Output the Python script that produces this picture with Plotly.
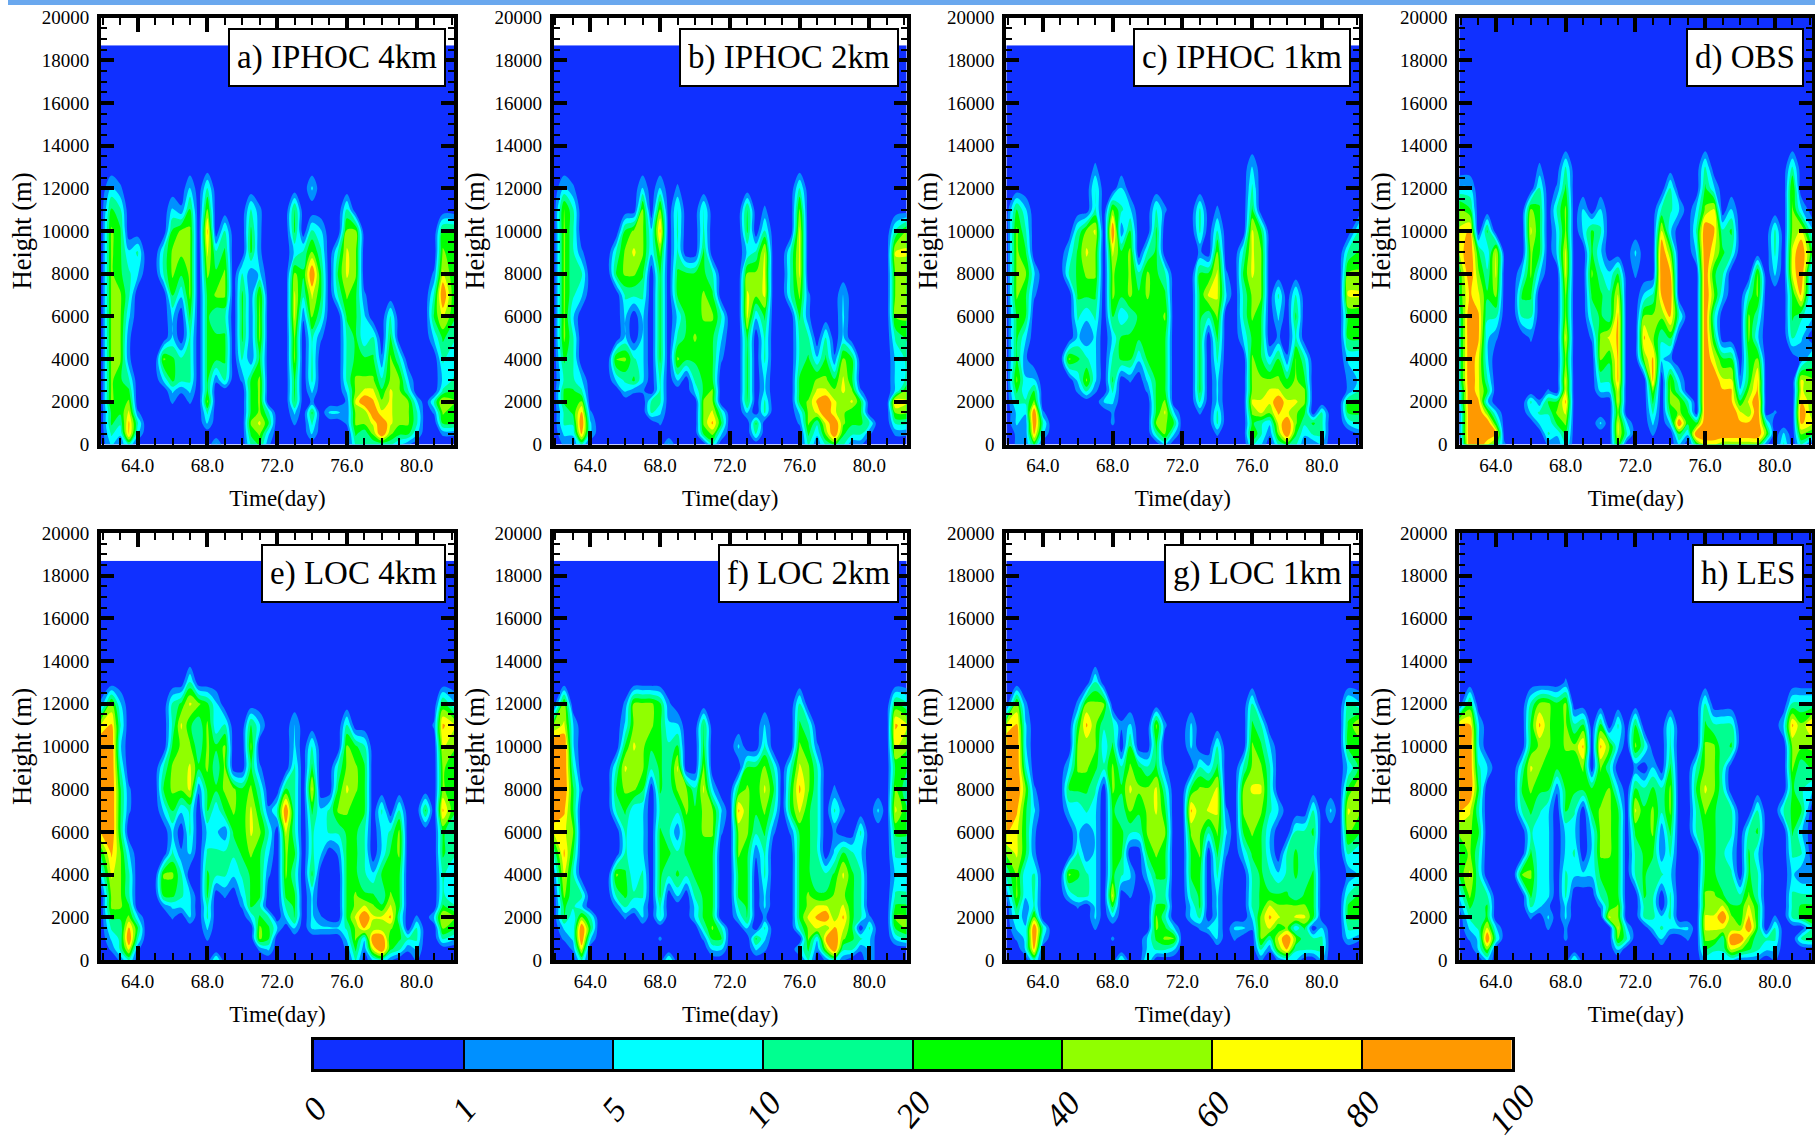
import plotly.graph_objects as go

W, H = 1815, 1137

# Cloud-fraction band: 0 = below 1 %, 1..8 = rising colour bands.
# Columns: day 62.0 to 82.0 every half day, in blocks of five. Rows: top to bottom, HEIGHTS_DOWN.
HEIGHTS_DOWN = [13000, 12000, 11000, 10000, 9000, 8000, 7000, 6000, 5000, 4000, 3000,
                2500, 2000, 1500, 1000, 500, 0]
TIME = [61.9] + [62 + 0.5 * i for i in range(1, 40)] + [82.14]
LEVEL_LABELS = ["0", "1", "5", "10", "20", "40", "60", "80", "100"]
BAND_COLORS = ["#1030FF", "#0090FF", "#00FFFF", "#00FF90", "#00FF00", "#90FF00", "#FFFF00", "#FF9900"]
TITLES = ["a) IPHOC 4km", "b) IPHOC 2km", "c) IPHOC 1km", "d) OBS",
          "e) LOC 4km", "f) LOC 2km", "g) LOC 1km", "h) LES"]
TOPS = [18700, 18700, 18700, 20000, 18700, 18700, 18700, 20000]

IPHOC_4KM = [
    "00000 00000 00000 00000 00000 00000 00000 00000 0",
    "02100 00000 20300 00000 00002 00000 00000 00000 0",
    "04300 00021 40500 00310 00400 00030 00000 00000 0",
    "05400 00045 50703 00410 00403 20055 00000 00004 4",
    "05423 00355 50634 00410 00235 30365 00000 00005 4",
    "05432 00354 50545 03120 00548 40465 00000 00016 4",
    "05530 00042 50455 04150 00636 40354 10000 00038 4",
    "05520 00020 40433 04150 00615 30044 20030 00046 4",
    "05510 00020 30444 04150 00503 10034 23040 00024 3",
    "05510 00543 30444 03140 00503 00034 44153 00003 2",
    "05430 00243 30413 01450 00403 00035 55355 20002 3",
    "05440 00021 20400 00450 00402 00025 66465 30003 4",
    "05450 00010 10500 00450 00401 00016 87565 52036 5",
    "04461 00000 00300 00453 00204 02215 58665 53015 4",
    "04373 00000 00200 00564 00103 00015 56865 53004 4",
    "03272 00000 00000 00452 00002 00004 35854 42001 1",
    "02130 00000 00020 00341 00000 00003 33332 10000 0",
]
IPHOC_2KM = [
    "00000 00000 00000 00000 00000 00000 00000 00000 0",
    "02100 00000 20201 00000 00000 00030 00000 00000 0",
    "05300 00000 50503 00300 00401 00050 00000 00000 0",
    "05300 00045 52703 00300 00403 00060 00000 00003 5",
    "05310 00356 52503 00400 00236 00360 00000 00006 6",
    "05330 00455 40404 44430 00556 00360 00000 00005 5",
    "05320 00033 30404 44540 00656 00351 00020 00005 5",
    "05200 00020 20402 44553 00624 00041 00020 00005 5",
    "05300 00020 20403 45442 00403 00033 03020 00003 4",
    "04300 00553 20405 44441 00403 00034 24154 00002 3",
    "03320 00234 20302 03440 00402 00044 55464 00002 3",
    "04430 00021 10300 02450 00402 00044 66565 10002 5",
    "04450 00000 03300 00550 00403 00045 78656 40007 6",
    "03471 00000 03200 00563 00203 00025 68654 40005 5",
    "03382 00000 00100 00574 00040 00015 36854 43003 3",
    "02272 00000 00000 00452 00030 00004 25843 31001 1",
    "01130 00000 00020 00030 00000 00003 13431 10000 0",
]
IPHOC_1KM = [
    "00000 00000 10000 00000 00000 00020 00000 00000 0",
    "00000 00000 30020 00000 00000 00030 00000 00000 0",
    "04200 00000 30532 00310 00301 00040 00000 00000 0",
    "05300 00035 60814 00400 00303 00064 00000 00000 3",
    "05400 00246 50645 03400 00105 00365 00000 00003 4",
    "05520 00345 50545 35430 00446 10465 00000 00005 5",
    "05410 00044 40545 45440 00466 20355 03030 00006 6",
    "04400 00032 30423 44450 00435 00354 02040 00004 4",
    "04200 00021 20244 44440 00404 00244 01030 00004 4",
    "04100 00543 20344 24440 00403 00054 24153 00002 2",
    "05220 00025 20401 02440 00402 00055 55454 00001 2",
    "04240 00013 10300 01440 00402 00055 66555 00001 3",
    "03350 00000 02200 00450 00302 00066 68665 00004 4",
    "02281 00000 00100 00462 00103 00056 57654 03004 4",
    "02183 00000 00100 00554 00003 00043 26853 43002 3",
    "01172 00000 00000 00352 00001 00053 15842 33000 1",
    "01140 00000 00000 00020 00000 00032 03431 12000 0",
]
OBS = [
    "00000 00001 00300 00000 00000 00030 00000 00030 0",
    "22000 00003 01400 00000 00003 00042 00000 00050 0",
    "54000 00054 03502 02000 00033 20256 02000 00052 0",
    "67040 00064 02502 43000 00062 00387 34000 03056 2",
    "68426 00054 02600 42000 20085 00286 43000 03068 4",
    "48536 00252 00600 53240 10087 00084 30005 02068 1",
    "47645 00440 00500 44360 02378 00085 20035 00047 1",
    "38733 00330 00500 34370 05557 30083 00053 00043 2",
    "38721 00010 00600 15670 07534 00084 00052 00032 0",
    "38620 00000 00500 05470 05721 00086 44045 00001 3",
    "38630 00000 00600 03370 00705 20088 66147 00006 5",
    "28640 00000 10600 02260 00505 30088 77257 00006 5",
    "28720 00031 44700 00060 00405 53088 87468 00007 5",
    "18852 00023 35600 00050 00304 54088 88658 01008 5",
    "18884 00002 24500 02062 00202 84488 88778 30007 6",
    "18887 00000 32400 00063 00100 42888 88888 50205 4",
    "08864 10000 11300 00050 00000 20466 55555 10303 0",
]
LOC_4KM = [
    "00000 00000 30000 00000 00000 00000 00000 00000 0",
    "15200 00034 65420 00000 00000 00000 00000 00004 2",
    "67300 00036 43523 00420 00200 00030 00000 00017 6",
    "88200 00045 53545 00500 00203 00054 30000 00006 5",
    "88300 00355 64535 00410 00304 00355 40000 00005 4",
    "88410 00455 61445 54530 04306 00465 40000 00005 4",
    "88410 00242 30424 54641 38304 23554 40303 00407 4",
    "78400 00020 30221 44653 06303 23344 30235 00004 3",
    "47520 00031 20333 34542 05403 20144 30245 00004 3",
    "26530 00553 00433 23441 05304 00044 32444 00003 2",
    "05530 00443 20401 02440 04402 00045 44354 00003 2",
    "05540 00122 20300 01430 03402 00045 65464 00004 3",
    "04452 00010 20300 00243 02402 10046 86673 01026 5",
    "03374 00000 00200 00054 20202 22235 75554 03005 4",
    "02383 00000 00100 00054 00000 00025 28844 33003 2",
    "01361 00000 00000 00012 00000 00014 16843 12000 0",
    "00130 00000 00030 00000 00000 00003 02310 01000 0",
]
LOC_2KM = [
    "00000 00000 00000 00000 00000 00000 00000 00000 0",
    "05000 00015 55410 00000 00000 00030 00000 00004 3",
    "56200 00025 55422 00400 00002 00043 00000 00007 6",
    "88200 00046 54434 00400 02003 00054 10000 00006 5",
    "88300 00365 53436 00500 00445 30365 30000 00004 4",
    "88410 00455 40435 53620 04546 40475 30100 00005 3",
    "87400 00342 20333 54552 07545 30464 30310 00206 4",
    "66500 00032 20431 44551 05534 10144 30100 30004 4",
    "37400 00032 20443 44440 05413 00044 30243 20003 3",
    "16300 00542 30434 34440 04403 00044 33464 30002 2",
    "05330 00343 30402 03440 04402 00045 44554 30003 3",
    "04320 00132 20300 02440 03402 00045 66564 30004 4",
    "04253 00010 20300 02440 02401 00046 78574 31005 5",
    "02284 00000 00000 00353 00203 00035 65764 03004 5",
    "01282 00000 00100 00144 00042 00005 27854 32002 3",
    "00160 00000 00000 00022 00021 00024 15833 12000 0",
    "00030 00000 00030 00000 00000 00003 01310 02000 0",
]
LOC_1KM = [
    "00000 00000 30000 00000 00000 00000 00000 00000 0",
    "05100 00015 55000 00000 00000 00030 00000 00003 2",
    "67200 00047 53312 00510 02000 00043 00000 00004 6",
    "88200 00055 52404 00400 02003 00054 20000 00004 4",
    "88300 00255 43535 43410 00324 00355 30000 00002 4",
    "88510 00444 30546 55630 04556 00566 30000 00004 6",
    "87420 00223 20435 45640 07566 10555 32000 30206 5",
    "76410 00021 20443 35550 05535 20454 20033 40005 4",
    "56410 00031 20440 04540 04504 10244 20343 30003 2",
    "35230 00543 20432 02440 04403 00034 32343 40001 2",
    "15230 00233 20601 00330 03402 00034 44434 40003 4",
    "04130 00010 20400 00440 02402 00034 65555 40004 4",
    "03150 00000 20200 00530 02302 00025 76566 40004 4",
    "02283 00000 10000 00542 00122 02215 64524 02003 3",
    "01282 00000 00100 02455 00002 01005 36853 33002 1",
    "00270 00000 00000 02332 00000 00003 15733 33000 0",
    "00030 00000 00030 03000 00000 00001 01220 02000 0",
]
LES = [
    "00000 00000 00100 00000 00000 00000 00000 00000 0",
    "04000 00035 54500 00000 00000 00030 00000 00033 3",
    "77200 00047 54534 04030 40003 00043 33000 00275 7",
    "88200 00045 54557 07520 53003 00055 34000 00055 5",
    "88320 00365 44445 05300 10204 00355 30000 00053 4",
    "88400 00454 41444 44520 43435 00465 30000 00043 2",
    "76300 00343 20430 45540 64535 00354 33003 00344 0",
    "55400 00032 20220 25540 44514 00344 33034 00042 0",
    "45300 00042 20230 25540 34413 00044 32042 00033 0",
    "46300 00552 20322 24440 34332 00044 33043 00021 1",
    "25330 00042 20300 03440 04303 00055 43353 00033 3",
    "14340 00032 10200 01450 03303 00055 64464 00034 4",
    "03340 00010 20200 00650 03323 00066 85474 01034 5",
    "02362 00000 10100 00062 00232 22066 65584 03000 3",
    "01283 00000 00100 00053 00020 01055 38853 33003 4",
    "00250 00000 00000 00020 00000 00043 36543 22000 0",
    "00020 00000 00030 00000 00000 00022 22111 01000 0",
]
PANELS = [IPHOC_4KM, IPHOC_2KM, IPHOC_1KM, OBS, LOC_4KM, LOC_2KM, LOC_1KM, LES]

FONT = "Liberation Serif"
LEFTS = [101, 553.7, 1006.3, 1459.3]
BOTTOMS = [444.5, 960]
PW, PH = 353, 427
KEY_LEFT, KEY_RIGHT = 314, 1511.5
scale = [[i / 7, c] for i, c in enumerate(BAND_COLORS)]


def decode(rows, top):
    grid = [[int(c) for c in r.replace(" ", "")] for r in reversed(rows)]
    zeros = [0] * len(TIME)
    return grid + [zeros, zeros], list(reversed(HEIGHTS_DOWN)) + [14000, top]


fig = go.Figure()
layout = {}
annotations = []
for k, (rows, top, title) in enumerate(zip(PANELS, TOPS, TITLES)):
    n = "" if k == 0 else str(k + 1)
    left, bottom = LEFTS[k % 4], BOTTOMS[k // 4]
    z, y = decode(rows, top)
    fig.add_trace(go.Contour(
        x=TIME, y=y, z=z, xaxis="x" + n, yaxis="y" + n, autocontour=False,
        contours=dict(start=0.8, end=6.8, size=1, coloring="fill", showlines=False),
        line=dict(width=0, smoothing=1), colorscale=scale, showscale=False,
    ))
    layout["xaxis" + n] = dict(
        domain=[left / W, (left + PW) / W], anchor="y" + n, range=[61.9, 82.14],
        tick0=64, dtick=4, tickformat=".1f", ticks="inside", ticklen=14, tickwidth=4,
        tickcolor="black", showline=True, linewidth=4, linecolor="black", mirror="ticks",
        showgrid=False, zeroline=False, ticklabelstandoff=1,
        minor=dict(tick0=64, dtick=1, ticks="inside", ticklen=7, tickwidth=2, tickcolor="black", showgrid=False),
        tickfont=dict(family=FONT, size=19, color="black"),
        title=dict(text="Time(day)", font=dict(family=FONT, size=23, color="black"), standoff=16),
    )
    layout["yaxis" + n] = dict(
        domain=[1 - bottom / H, 1 - (bottom - PH) / H], anchor="x" + n, range=[0, 20000],
        tick0=0, dtick=2000, tickformat="d", ticks="inside", ticklen=13, tickwidth=4, tickcolor="black",
        showline=True, linewidth=4, linecolor="black", mirror="ticks",
        showgrid=False, zeroline=False, ticklabelstandoff=4,
        minor=dict(tick0=0, dtick=500, ticks="inside", ticklen=6, tickwidth=2, tickcolor="black", showgrid=False),
        tickfont=dict(family=FONT, size=19, color="black"),
        title=dict(text="Height (m)", font=dict(family=FONT, size=26.5, color="black"), standoff=3),
    )
    annotations.append(dict(
        text=title, xref="paper", yref="paper", x=(left + PW - 8) / W, y=1 - (bottom - PH + 10.5) / H,
        xanchor="right", yanchor="top", showarrow=False, bgcolor="white", bordercolor="black",
        borderwidth=2, borderpad=7, height=41, valign="middle",
        font=dict(family=FONT, size=33, color="black"),
    ))

# Colour key drawn as its own axes, with one cell per band between the level ticks.
fig.add_trace(go.Heatmap(
    x=[i + 0.5 for i in range(8)], y=[0], z=[list(range(8))], xaxis="x9", yaxis="y9",
    zmin=0, zmax=7, colorscale=scale, showscale=False,
))
layout["xaxis9"] = dict(
    domain=[KEY_LEFT / W, KEY_RIGHT / W], anchor="y9", range=[0, 8], tickvals=list(range(9)),
    showticklabels=False, ticks="inside", ticklen=29, tickwidth=1.5, tickcolor="black",
    showline=True, linewidth=2.5, linecolor="black", mirror=True, showgrid=False, zeroline=False,
)
layout["yaxis9"] = dict(
    domain=[1 - 1069 / H, 1 - 1040 / H], anchor="x9", range=[-0.5, 0.5], showticklabels=False,
    ticks="", showline=True, linewidth=2.5, linecolor="black", mirror=True, showgrid=False, zeroline=False,
)
for i, label in enumerate(LEVEL_LABELS):
    annotations.append(dict(
        text=f"<i>{label}</i>", xref="paper", yref="paper",
        x=(KEY_LEFT + i * (KEY_RIGHT - KEY_LEFT) / 8) / W, y=1 - 1109 / H, xanchor="center",
        yanchor="middle", textangle=-50, showarrow=False,
        font=dict(family=FONT, size=34, color="black"),
    ))

fig.update_layout(
    width=W, height=H, margin=dict(l=0, r=0, t=0, b=0, autoexpand=False), paper_bgcolor="white",
    plot_bgcolor="white", showlegend=False, annotations=annotations,
    shapes=[dict(type="rect", xref="paper", yref="paper", x0=8 / W, x1=1, y0=1 - 5 / H, y1=1,
                 fillcolor="#6AA8EE", line=dict(width=0), layer="below")],
    **layout,
)
fig.write_html("out.html", config={"displayModeBar": False},
               post_script="document.body.style.margin='0';document.body.style.overflow='hidden';")
